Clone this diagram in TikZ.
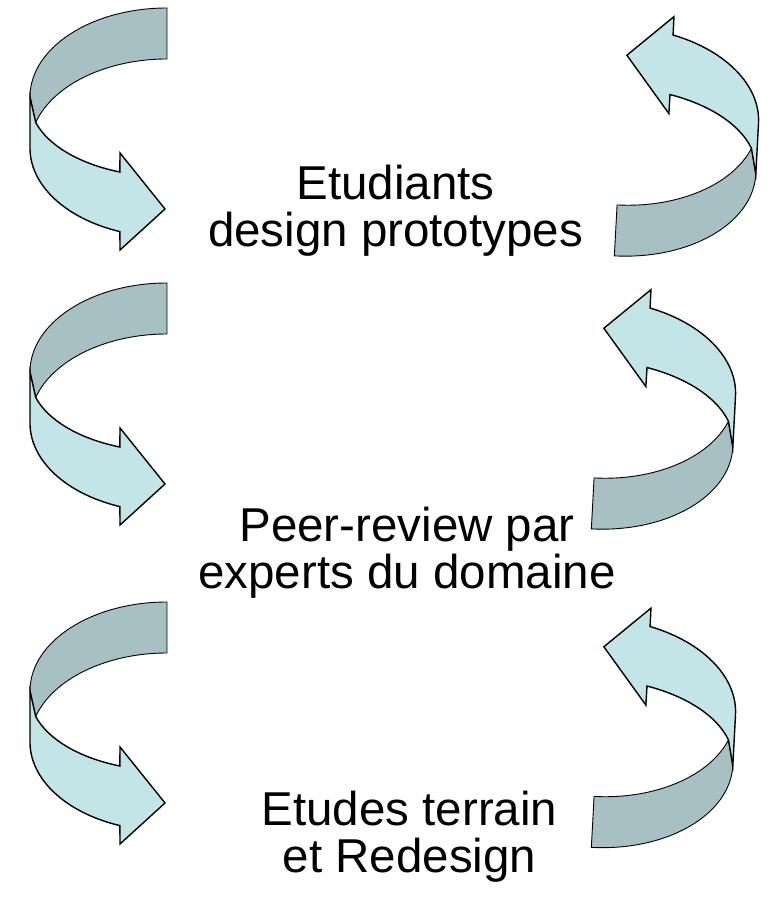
\documentclass[tikz,border=0pt]{standalone}
\usepackage{fontspec}
\setmainfont{Liberation Sans}
\definecolor{ribbonback}{HTML}{A6C0C3}
\definecolor{ribbonfront}{HTML}{C4E5E8}
\tikzset{back face/.style={draw, fill=ribbonback, line width=0.9pt, line join=round}}
\tikzset{front face/.style={draw, fill=ribbonfront, line width=1.4pt, line join=miter}}
\tikzset{step label/.style={align=center, inner sep=0, anchor=base, font=\fontsize{47.5}{47}\selectfont}}
\tikzset{turn arrow/.pic={
  \path[back face] (0,89) arc[start angle=90, end angle=180, x radius=137, y radius=89]
    -- (-131.3,-25.5) arc[start angle=163.35, end angle=90, x radius=137, y radius=89] -- cycle;
  \path[front face] (-137,0) -- (-131.3,-25.5)
    arc[start angle=196.65, end angle=249.9, x radius=137, y radius=75.9]
    -- (-47,-56) -- (-2,-112) -- (-47,-153) -- (-47.1,-134.6)
    arc[start angle=249.9, end angle=180, x radius=137, y radius=89] -- cycle;
}}

\begin{document}
\begin{tikzpicture}[x=1pt, y=1pt]
  \useasboundingbox (0,0) rectangle (770,899);

  % left side, going down
  \pic at (167,802) {turn arrow};
  \pic at (167,527) {turn arrow};
  \pic at (167,208) {turn arrow};

  % right side, going up
  \pic[rotate=177] at (619,732) {turn arrow};
  \pic[rotate=177] at (596,459) {turn arrow};
  \pic[rotate=177] at (596,140.5) {turn arrow};

  % base = last line
  \node[step label] (students) at (395.5,652) {Etudiants\\design prototypes};
  \node[step label] (review) at (407,310.7) {Peer-review par\\experts du domaine};
  \node[step label] (fieldwork) at (409.5,26.3) {Etudes terrain\\et Redesign};
\end{tikzpicture}
\end{document}
